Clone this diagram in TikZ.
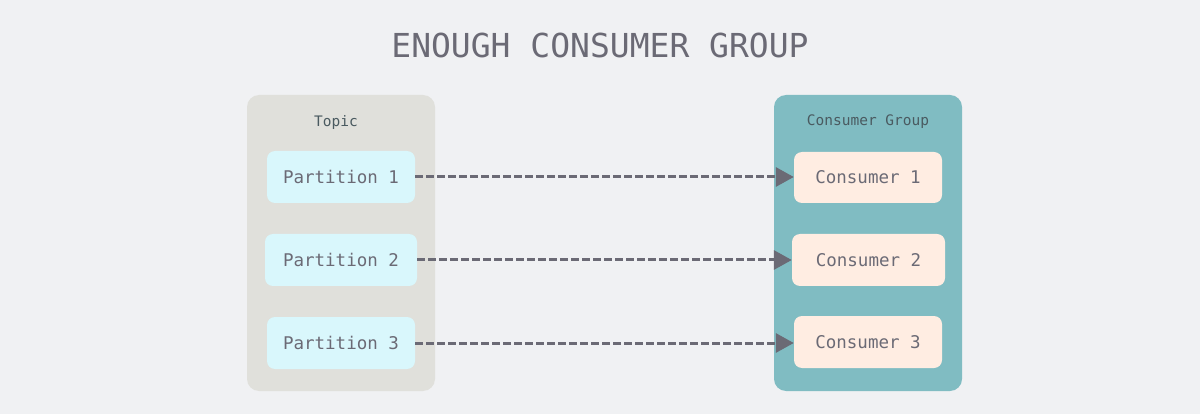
\documentclass[tikz,border=0pt]{standalone}
\usepackage{fontspec}
\setmonofont{DejaVu Sans Mono}
\usetikzlibrary{arrows.meta}
\definecolor{bgc}{HTML}{F0F1F3}
\definecolor{topicc}{HTML}{E0E0DB}
\definecolor{groupc}{HTML}{80BCC2}
\definecolor{partc}{HTML}{D9F7FC}
\definecolor{consc}{HTML}{FFEDE2}
\definecolor{txtc}{HTML}{6B6A75}
\definecolor{lblc}{HTML}{4A5A60}
\tikzset{
  container/.style={rounded corners=12pt, inner sep=0pt},
  partbox/.style={fill=partc, rounded corners=8pt, inner sep=0pt, font=\ttfamily\fontsize{17.5}{20}\selectfont, text=txtc},
  consbox/.style={fill=consc, rounded corners=8pt, inner sep=0pt, font=\ttfamily\fontsize{17.5}{20}\selectfont, text=txtc},
  lbl/.style={font=\ttfamily\fontsize{14.5}{16}\selectfont, text=lblc},
  flow/.style={draw=txtc, line width=3pt, dash pattern=on 8pt off 3pt, -{Triangle[length=18pt,width=19pt]}}
}
\begin{document}
\begin{tikzpicture}[x=1pt,y=-1pt]
\useasboundingbox (0,0) rectangle (1200,414);
\fill[bgc] (0,0) rectangle (1200,414);
\node[font=\ttfamily\fontsize{33}{36}\selectfont, text=txtc] (title) at (600,45) {ENOUGH CONSUMER GROUP};
\fill[topicc, rounded corners=12pt] (247,95) rectangle (435,391);
\fill[groupc, rounded corners=12pt] (774,95) rectangle (962,391);
\node[lbl] (topic) at (336,123) {Topic};
\node[lbl] (group) at (868,122) {Consumer Group};
\node[partbox, minimum width=148pt, minimum height=52pt] (p1) at (341,177) {Partition 1};
\node[partbox, minimum width=152pt, minimum height=52pt] (p2) at (341,260) {Partition 2};
\node[partbox, minimum width=148pt, minimum height=52pt] (p3) at (341,343) {Partition 3};
\node[consbox, minimum width=148pt, minimum height=51pt] (c1) at (868,177.5) {Consumer 1};
\node[consbox, minimum width=153pt, minimum height=52pt] (c2) at (868.5,260) {Consumer 2};
\node[consbox, minimum width=148pt, minimum height=52pt] (c3) at (868,342) {Consumer 3};
\draw[flow] (p1.east) -- (p1.east -| c1.west);
\draw[flow] (p2.east) -- (p2.east -| c2.west);
\draw[flow] (p3.east) -- (p3.east -| c3.west);
\end{tikzpicture}
\end{document}
